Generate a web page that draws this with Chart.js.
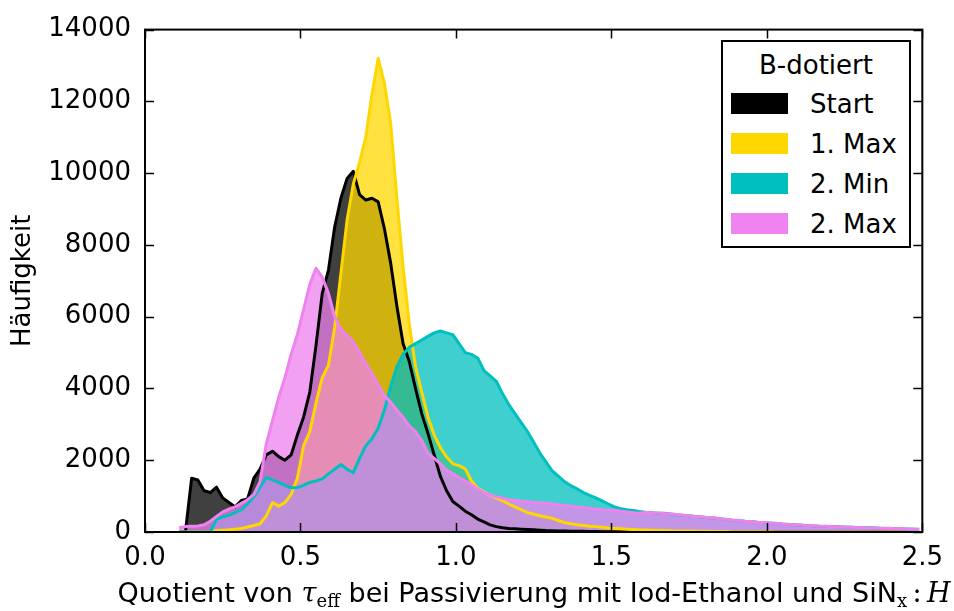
<!DOCTYPE html>
<html lang="de">
<head>
<meta charset="utf-8">
<title>Häufigkeit – B-dotiert</title>
<script src="https://cdn.jsdelivr.net/npm/chart.js@4.4.1/dist/chart.umd.min.js"></script>
<style>
  html, body { margin: 0; padding: 0; background: #fff; }
  #wrap { position: relative; width: 954px; height: 611px; font-family: 'DejaVu Sans', sans-serif; color: #000; }
  #hist { position: absolute; left: 0; top: 0; }
  .legend {
    position: absolute; left: 721px; top: 40px; width: 186px; height: 204px;
    border: 2px solid #000; background: #fff; font-size: 26px;
  }
  .legend .title { position: absolute; left: 0; right: 0; top: 8px; text-align: center; line-height: 30px; }
  .legend .row { position: absolute; left: 8px; height: 30px; line-height: 30px; }
  .legend .sw { position: absolute; left: 0; top: 4px; width: 57px; height: 21px; }
  .legend .lbl { position: absolute; left: 79px; white-space: nowrap; }
  #xlabel {
    position: absolute; left: 104px; width: 860px; top: 578px;
    text-align: center; font-size: 27px; line-height: 30px; white-space: nowrap;
  }
  #xlabel .mi { font-family: 'DejaVu Serif', serif; font-style: italic; }
  #xlabel .mr { font-family: 'DejaVu Serif', serif; }
  #xlabel sub { font-size: 18px; vertical-align: -5px; line-height: 0; }
</style>
</head>
<body>
<div id="wrap">
  <canvas id="hist" width="954" height="611"></canvas>
  <div class="legend" id="legend">
    <div class="title">B-dotiert</div>
  </div>
  <div id="xlabel">Quotient von <span class="mi">τ</span><sub class="mr">eff</sub> bei Passivierung mit Iod-Ethanol und SiN<sub class="mr">x</sub><span class="mr">&thinsp;:&thinsp;</span><span class="mi">H</span></div>
</div>
<script>
// histogram bins: 0.10 ... 2.50, width 0.02 (values plotted at bin centres)
const BIN_START = 0.10;
const BIN_WIDTH = 0.02;

const xTicks = [0.0, 0.5, 1.0, 1.5, 2.0, 2.5];
const yTicks = [0, 2000, 4000, 6000, 8000, 10000, 12000, 14000];

const seriesNames = ['Start', '1. Max', '2. Min', '2. Max'];
const seriesColors = ['#000000', '#FFD700', '#00BFBF', '#EE82EE'];

// counts per bin
const countsStart = [
  0, 0, 1500, 1450, 1150, 1100, 1250, 950, 820, 700,
  880, 920, 1500, 1750, 2150, 2250, 2100, 2000, 2150, 2700,
  3200, 3900, 5200, 6650, 7300, 8500, 9300, 9850, 10050, 9400,
  9250, 9300, 9200, 8450, 7500, 6300, 5250, 4750, 4000, 3300,
  2750, 2150, 1550, 1150, 850, 720, 580, 480, 360, 280,
  200, 150, 120, 100, 90, 80, 70, 60, 50, 40,
  35, 30, 25, 22, 20, 18, 15, 12, 10, 8,
  6, 5, 4, 3, 2, 2, 1, 1, 0, 0,
  0, 0, 0, 0, 0, 0, 0, 0, 0, 0,
  0, 0, 0, 0, 0, 0, 0, 0, 0, 0,
  0, 0, 0, 0, 0, 0, 0, 0, 0, 0,
  0, 0, 0, 0, 0, 0, 0, 0, 0, 0,
];
const countsMax1 = [
  0, 0, 0, 0, 0, 0, 40, 50, 60, 80,
  100, 140, 180, 230, 450, 820, 720, 820, 1050, 1500,
  2400, 2800, 3600, 4300, 4650, 5700, 7200, 8700, 9700, 10300,
  11000, 12200, 13200, 12500, 11400, 9300, 7400, 5800, 4600, 3900,
  3200, 2700, 2350, 2090, 1900, 1850, 1760, 1420, 1220, 1120,
  1020, 950, 870, 780, 700, 620, 540, 500, 450, 420,
  380, 320, 260, 230, 200, 180, 160, 150, 130, 110,
  100, 90, 80, 70, 60, 55, 50, 45, 40, 35,
  30, 28, 25, 22, 20, 18, 16, 14, 12, 10,
  9, 8, 7, 6, 5, 4, 3, 2, 2, 1,
  0, 0, 0, 0, 0, 0, 0, 0, 0, 0,
  0, 0, 0, 0, 0, 0, 0, 0, 0, 0,
];
const countsMin2 = [
  0, 0, 0, 0, 0, 0, 350, 420, 470, 540,
  620, 780, 980, 1250, 1520, 1450, 1380, 1300, 1230, 1240,
  1300, 1380, 1420, 1480, 1620, 1750, 1880, 1750, 1650, 2050,
  2400, 2600, 2900, 3400, 4050, 4600, 4950, 5150, 5250, 5350,
  5450, 5550, 5600, 5550, 5500, 5250, 5000, 4950, 4850, 4500,
  4350, 4200, 3850, 3550, 3300, 3050, 2800, 2500, 2200, 1950,
  1700, 1550, 1400, 1290, 1200, 1100, 1020, 950, 870, 780,
  700, 650, 620, 600, 570, 550, 540, 525, 520, 500,
  480, 470, 450, 430, 420, 400, 390, 370, 350, 330,
  320, 300, 290, 270, 260, 250, 240, 220, 210, 200,
  190, 180, 170, 160, 155, 150, 145, 140, 135, 125,
  120, 115, 110, 105, 100, 95, 90, 85, 80, 75,
];
const countsMax2 = [
  120, 150, 160, 170, 200, 300, 430, 560, 640, 700,
  800, 900, 1050, 1400, 2450, 3100, 3750, 4300, 4950, 5500,
  6200, 6900, 7350, 7100, 6650, 6000, 5650, 5480, 5300, 5000,
  4700, 4400, 4100, 3800, 3620, 3400, 3200, 2950, 2800, 2550,
  2200, 2050, 1900, 1720, 1620, 1520, 1420, 1320, 1200, 1100,
  1030, 980, 940, 900, 880, 860, 840, 820, 810, 800,
  780, 760, 740, 720, 700, 680, 660, 640, 620, 610,
  600, 580, 560, 540, 520, 545, 535, 530, 515, 505,
  485, 465, 455, 425, 425, 395, 395, 365, 355, 325,
  325, 295, 295, 265, 265, 245, 245, 215, 215, 195,
  195, 175, 175, 160, 160, 145, 150, 135, 140, 120,
  125, 110, 115, 100, 105, 90, 95, 80, 85, 70,
];

const allCounts = [countsStart, countsMax1, countsMin2, countsMax2];

const TICK_LEN = 9;

function toPoints(counts) {
  return counts.map((c, i) => ({ x: BIN_START + (i + 0.5) * BIN_WIDTH, y: c }));
}

function withAlpha(hex, a) {
  const n = parseInt(hex.slice(1), 16);
  return `rgba(${(n >> 16) & 255}, ${(n >> 8) & 255}, ${n & 255}, ${a})`;
}

// inward ticks on all four sides plus the frame
const frameTicks = {
  id: 'frameTicks',
  afterDatasetsDraw(chart) {
    const { ctx, chartArea: a, scales: { x, y } } = chart;
    ctx.save();
    ctx.strokeStyle = '#000';
    ctx.lineWidth = 1.5;
    ctx.beginPath();
    x.ticks.forEach((t) => {
      const px = Math.round(x.getPixelForValue(t.value)) + 0.5;
      ctx.moveTo(px, a.bottom); ctx.lineTo(px, a.bottom - TICK_LEN);
      ctx.moveTo(px, a.top); ctx.lineTo(px, a.top + TICK_LEN);
    });
    y.ticks.forEach((t) => {
      const py = Math.round(y.getPixelForValue(t.value)) + 0.5;
      ctx.moveTo(a.left, py); ctx.lineTo(a.left + TICK_LEN, py);
      ctx.moveTo(a.right, py); ctx.lineTo(a.right - TICK_LEN, py);
    });
    ctx.stroke();
    ctx.lineWidth = 2;
    ctx.strokeRect(a.left, a.top, a.right - a.left, a.bottom - a.top);
    ctx.restore();
  },
};

Chart.defaults.font.family = "'DejaVu Sans', sans-serif";
Chart.defaults.font.size = 26;
Chart.defaults.color = '#000';

new Chart(document.getElementById('hist'), {
  type: 'line',
  data: {
    datasets: allCounts.map((counts, i) => ({
      label: seriesNames[i],
      data: toPoints(counts),
      borderColor: seriesColors[i],
      backgroundColor: withAlpha(seriesColors[i], 0.75),
      borderWidth: 3,
      borderJoinStyle: 'round',
      pointRadius: 0,
      tension: 0,
      fill: 'origin',
      // later series are drawn on top
      order: allCounts.length - i,
    })),
  },
  plugins: [frameTicks],
  options: {
    responsive: false,
    animation: false,
    events: [],
    layout: { padding: { top: 27, right: 31, bottom: 0, left: 0 } },
    plugins: {
      legend: { display: false },
      tooltip: { enabled: false },
      filler: { drawTime: 'beforeDatasetsDraw' },
    },
    scales: {
      x: {
        type: 'linear',
        min: 0,
        max: 2.5,
        afterFit: (s) => { s.height = 79; },
        afterBuildTicks: (s) => { s.ticks = xTicks.map((v) => ({ value: v })); },
        grid: { display: false, drawTicks: false },
        border: { display: false },
        ticks: { padding: 11, maxRotation: 0, callback: (v) => v.toFixed(1) },
      },
      y: {
        min: 0,
        max: 14000,
        afterFit: (s) => { s.width = 145; },
        afterBuildTicks: (s) => { s.ticks = yTicks.map((v) => ({ value: v })); },
        grid: { display: false, drawTicks: false },
        border: { display: false },
        ticks: { padding: 14, callback: (v) => String(v) },
        title: { display: true, text: 'Häufigkeit', padding: { top: 8, bottom: 0 } },
      },
    },
  },
});

// legend box with title and colour swatches
const legend = document.getElementById('legend');
seriesNames.forEach((name, i) => {
  const row = document.createElement('div');
  row.className = 'row';
  row.style.top = (47 + i * 40) + 'px';
  row.innerHTML = `<span class="sw" style="background:${seriesColors[i]}"></span><span class="lbl">${name}</span>`;
  legend.appendChild(row);
});
</script>
</body>
</html>
